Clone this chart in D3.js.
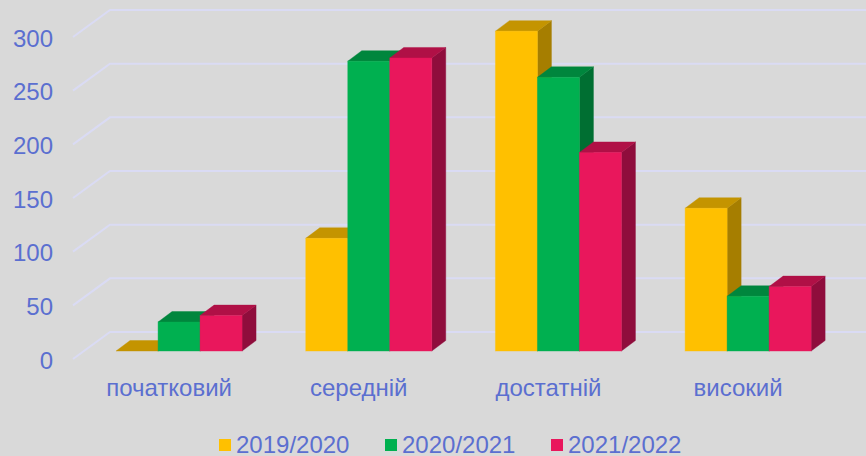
<!DOCTYPE html>
<html>
<head>
<meta charset="utf-8">
<script src="https://cdn.jsdelivr.net/npm/d3@7"></script>
<style>
  html, body { margin: 0; padding: 0; background: #d9d9d9; }
  svg { display: block; }
  text { font-family: "Liberation Sans", Arial, sans-serif; fill: #5b6fd0; }
</style>
</head>
<body>
<div id="chart"></div>
<script>
// Pseudo-3D grouped columns, student levels per school year.
const categories = ['початковий', 'середній', 'достатній', 'високий'];
const seriesNames = ['2019/2020', '2020/2021', '2021/2022'];
const values2019 = [0, 105, 298, 133];
const values2020 = [27, 270, 255, 51];
const values2021 = [33, 273, 185, 60];
const yTicks = [0, 50, 100, 150, 200, 250, 300];
const frontColors = ['#ffc000', '#00b050', '#e9175c'];
const topColors = ['#c49400', '#00863d', '#b01046'];
const sideColors = ['#a67e00', '#006f32', '#8f0d3c'];

const width = 866, height = 456;
const depthX = 14, depthY = -10.5; // how far a bar goes back
const svg = d3.select('#chart').append('svg').attr('width', width).attr('height', height);

const series = [values2019, values2020, values2021];

// y gives the back wall position, the floor runs down-left from it
const y = d3.scaleLinear().domain([0, 300]).range([332, 10]);
const x = d3.scaleBand().domain(categories).range([84.2, 843]).paddingInner(0.3358).paddingOuter(0.168);
const xInner = d3.scaleBand().domain(seriesNames).range([0, x.bandwidth()]);

// Gridlines: floor edge on the left, then along the wall
const grid = svg.append('g');
grid.selectAll('path')
  .data(yTicks)
  .join('path')
  .attr('fill', 'none')
  .attr('stroke', '#dadbf4')
  .attr('stroke-width', 2)
  .attr('d', d => d3.line()([[73, y(d) + 27], [110, y(d)], [width, y(d)]]));

// Value labels sit at the front end of each gridline
const yAxis = d3.axisLeft(y.copy().range([360.5, 38.5])).tickValues(yTicks).tickSize(0).tickPadding(0);
svg.append('g')
  .attr('transform', 'translate(53,0)')
  .call(yAxis)
  .call(g => g.select('.domain').remove())
  .selectAll('text')
  .style('font-size', '24px');

// Front face bottom is 19px below the wall base
const frontY = v => y(v) + 19;
const bars = svg.append('g').selectAll('g')
  .data(categories)
  .join('g')
  .attr('transform', c => `translate(${x(c)},0)`);

bars.each(function(c, i){
  const group = d3.select(this);
  seriesNames.forEach((name, s) => {
    const x0 = xInner(name), x1 = x0 + xInner.bandwidth();
    const top = frontY(series[s][i]), base = frontY(0);
    const poly = pts => pts.map(p => p.join(',')).join(' ');
    // side, then top, then front so later bars cover earlier ones
    group.append('polygon')
      .attr('fill', sideColors[s])
      .attr('stroke', sideColors[s])
      .attr('stroke-opacity', 0.4)
      .attr('points', poly([[x1, top], [x1 + depthX, top + depthY], [x1 + depthX, base + depthY], [x1, base]]));
    group.append('polygon')
      .attr('fill', topColors[s])
      .attr('stroke', topColors[s])
      .attr('stroke-opacity', 0.4)
      .attr('points', poly([[x0, top], [x0 + depthX, top + depthY], [x1 + depthX, top + depthY], [x1, top]]));
    group.append('rect')
      .attr('fill', frontColors[s])
      .attr('stroke', frontColors[s])
      .attr('stroke-opacity', 0.4)
      .attr('x', x0).attr('y', top)
      .attr('width', x1 - x0).attr('height', base - top);
  });
});

// Category labels
const xAxis = d3.axisBottom(x).tickSize(0).tickPadding(0);
svg.append('g')
  .attr('transform', 'translate(-10,379)')
  .call(xAxis)
  .call(g => g.select('.domain').remove())
  .selectAll('text')
  .style('font-size', '24px');

// Legend
const legendX = d3.scaleOrdinal(seriesNames, [219, 385, 551]);
const legend = svg.append('g').selectAll('g')
  .data(seriesNames)
  .join('g')
  .attr('transform', d => `translate(${legendX(d)},439)`);
legend.append('rect')
  .attr('width', 12).attr('height', 12)
  .attr('fill', (d, i) => frontColors[i]);
legend.append('text')
  .attr('x', 17).attr('y', 13.5)
  .style('font-size', '24px')
  .text(d => d);
</script>
</body>
</html>
